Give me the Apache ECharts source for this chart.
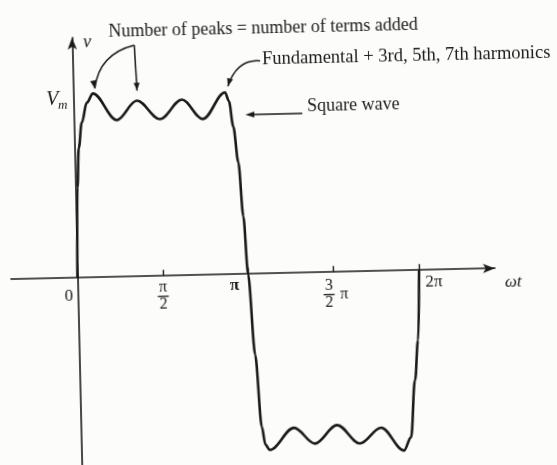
<!DOCTYPE html>
<html>
<head>
<meta charset="utf-8">
<script src="https://cdn.jsdelivr.net/npm/echarts@6/dist/echarts.min.js"></script>
<style>
  html, body { margin: 0; padding: 0; background: #fcfcfa; overflow: hidden; width: 557px; height: 465px; }
  #chart { width: 557px; height: 485px; transform: rotate(-1.3deg); transform-origin: 278px 232px; }
</style>
</head>
<body>
<div id="chart"></div>
<script>
// Horizontal positions are ωt expressed in multiples of π; vertical values are v / Vm.
const waveX = [0, 0.012, 0.025, 0.046, 0.078, 0.115, 0.251, 0.371, 0.504, 0.635, 0.755, 0.888,
               0.91, 0.932, 0.957, 0.979, 0.999, 1.03, 1.059, 1.078, 1.103, 1.247, 1.368, 1.499, 1.631,
               1.757, 1.888, 1.931, 1.962, 1.985, 2.0];
const waveY = [0, 0.5, 0.72, 0.86, 0.97, 1.02, 0.87, 0.975, 0.87, 0.975, 0.865, 1.01,
               0.96, 0.82, 0.62, 0.32, 0, -0.45, -0.85, -0.95, -0.98, -0.86, -0.95, -0.85, -0.955,
               -0.87, -1.0, -0.928, -0.61, -0.39, 0];

// Tick positions along ωt (multiples of π) and their labels
const tickValues = [0, 0.5, 1, 1.5, 2];
const tickLabels = ['0', 'π/2', 'π', '3/2 π', '2π'];

// Amplitude reference level
const vmLevel = 1;
const vmLabel = ['V', 'm'];

// Annotation texts and the peaks (indices into waveX/waveY) they point at
const peaksNote = 'Number of peaks = number of terms added';
const peaksNoteTargets = [5, 7];
const sumNote = 'Fundamental + 3rd, 5th, 7th harmonics';
const sumNoteTarget = 11;
const squareNote = 'Square wave';
const axisNames = { x: 'ωt', y: 'v' };

const INK = '#1a1a1a';
const SERIF = '"Liberation Serif", "Times New Roman", serif';

const chart = echarts.init(document.getElementById('chart'), null, { renderer: 'canvas' });

const option = {
  animation: false,
  backgroundColor: '#fcfcfa',
  grid: { left: 10, right: 63, top: 33, bottom: 10, containLabel: false },
  xAxis: {
    type: 'value', min: -0.389, max: 2.444,
    axisLine: { onZero: true, lineStyle: { color: INK, width: 1.6 }, symbol: ['none', 'arrow'], symbolSize: [7, 12] },
    axisTick: { show: true, inside: true, length: 6, customValues: tickValues.slice(1), lineStyle: { color: INK, width: 1.4 } },
    axisLabel: { show: false },
    splitLine: { show: false }
  },
  yAxis: {
    type: 'value', min: -1.12, max: 1.333,
    axisLine: { onZero: true, lineStyle: { color: INK, width: 1.6 }, symbol: ['none', 'arrow'], symbolSize: [7, 12] },
    axisTick: { show: false },
    axisLabel: { show: false },
    splitLine: { show: false }
  },
  series: [{
    type: 'line',
    data: waveX.map((x, i) => [x, waveY[i]]),
    showSymbol: false,
    smooth: 0.35,
    smoothMonotone: 'x',
    lineStyle: { color: INK, width: 2.6 },
    silent: true
  }]
};
chart.setOption(option);

const px = (x, y) => chart.convertToPixel({ gridIndex: 0 }, [x, y]);

function txt(x, y, text, o) {
  o = o || {};
  return {
    type: 'text', x: x, y: y, silent: true,
    style: {
      text: text, fill: INK,
      fontFamily: SERIF, fontSize: o.size || 15,
      fontStyle: o.italic ? 'italic' : 'normal',
      fontWeight: o.bold ? 'bold' : 'normal',
      align: o.align || 'center', verticalAlign: 'middle'
    }
  };
}
function seg(x1, y1, x2, y2, w) {
  return { type: 'line', silent: true, shape: { x1: x1, y1: y1, x2: x2, y2: y2 }, style: { stroke: INK, lineWidth: w || 1.3 } };
}
function head(tipX, tipY, fromX, fromY, len, half) {
  const dx = tipX - fromX, dy = tipY - fromY, d = Math.hypot(dx, dy);
  const ux = dx / d, uy = dy / d, bx = tipX - ux * len, by = tipY - uy * len;
  return {
    type: 'polygon', silent: true,
    shape: { points: [[tipX, tipY], [bx - uy * half, by + ux * half], [bx + uy * half, by - ux * half]] },
    style: { fill: INK }
  };
}
function curve(x1, y1, cx, cy, x2, y2) {
  return { type: 'bezierCurve', silent: true, shape: { x1: x1, y1: y1, cpx1: cx, cpy1: cy, x2: x2, y2: y2 },
           style: { stroke: INK, lineWidth: 1.5, fill: null } };
}
function fraction(cx, axisY, num, den, offs) {
  return [
    txt(cx, axisY + offs[0], num, { size: 16 }),
    seg(cx - 5.5, axisY + offs[1], cx + 5.5, axisY + offs[1], 1.3),
    txt(cx, axisY + offs[2], den, { size: 16 })
  ];
}

const els = [];
const [ox, oy] = px(0, 0);

// Tick labels along ωt
tickValues.forEach((v, i) => {
  const tx = px(v, 0)[0];
  const lab = tickLabels[i];
  if (lab.indexOf('/') >= 0) {
    const parts = lab.split(' ');
    const nd = parts[0].split('/');
    if (parts.length > 1) {
      els.push(...fraction(tx - 5, oy, nd[0], nd[1], [14, 22.5, 31]));
      els.push(txt(tx + 6, oy + 23, parts[1], { size: 16, align: 'left' }));
    } else {
      els.push(...fraction(tx, oy, nd[0], nd[1], [12, 20.5, 29]));
    }
  } else if (v === 0) {
    els.push(txt(tx - 9, oy + 18, lab, { size: 17 }));
  } else if (v === 1) {
    els.push(txt(tx - 14, oy + 11, lab, { size: 17, bold: true }));
  } else {
    els.push(txt(tx + 6, oy + 12, lab, { size: 17, align: 'left' }));
  }
});

// Axis names
const xEnd = px(2.444, 0);
els.push(txt(xEnd[0] + 18, oy + 14, axisNames.x, { size: 17, italic: true }));
const yTop = px(0, 1.333);
els.push(txt(ox + 15, yTop[1] + 5, axisNames.y, { size: 18, italic: true }));

// Vm marker on the amplitude axis
const vm = px(0, vmLevel);
els.push(txt(ox - 15, vm[1] + 2, vmLabel[0], { size: 20, italic: true, align: 'right' }));
els.push(txt(ox - 15.5, vm[1] + 8, vmLabel[1], { size: 13, italic: true, align: 'left' }));

// "Number of peaks" note with its two pointers
els.push(txt(113, 28, peaksNote, { size: 18, align: 'left' }));
const apex = [138.5, 42];
const p1 = px(waveX[peaksNoteTargets[0]], waveY[peaksNoteTargets[0]]);
const t1 = [p1[0] + 2, p1[1] - 5];
const c1 = [103, 50];
els.push(curve(apex[0], apex[1], c1[0], c1[1], t1[0], t1[1]));
els.push(head(t1[0], t1[1], t1[0] - 1.5, t1[1] - 8, 8, 3));
const p2 = px(waveX[peaksNoteTargets[1]], waveY[peaksNoteTargets[1]]);
const t2 = [p2[0] + 0.5, p2[1] - 10];
els.push(seg(apex[0], apex[1], t2[0], t2[1], 1.5));
els.push(head(t2[0], t2[1], apex[0], apex[1], 8, 3));

// "Fundamental + harmonics" note pointing at the last positive peak
els.push(txt(266, 59, sumNote, { size: 18.5, align: 'left' }));
const p4 = px(waveX[sumNoteTarget], waveY[sumNoteTarget]);
const t4 = [p4[0] + 3, p4[1] - 6];
els.push(curve(264, 60.5, 241, 58, t4[0], t4[1]));
els.push(head(t4[0], t4[1], t4[0] + 2.5, t4[1] - 8, 8, 3));

// "Square wave" note with a leftward arrow toward the edge
els.push(txt(310, 107, squareNote, { size: 18, align: 'left' }));
els.push(seg(255, 114, 305, 114, 1.6));
els.push(head(248, 114, 305, 114, 9, 3));

chart.setOption({ graphic: { elements: els } });
</script>
</body>
</html>
